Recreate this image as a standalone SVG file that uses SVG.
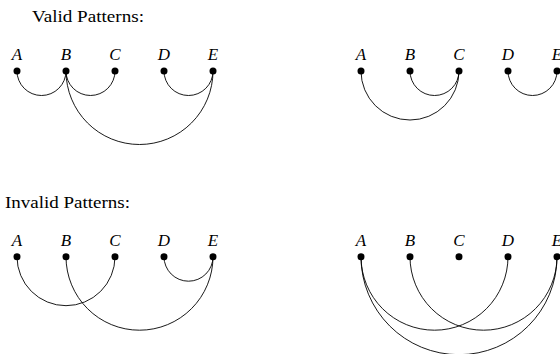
<svg xmlns="http://www.w3.org/2000/svg" width="560" height="354" viewBox="0 0 560 354">
<style>
.t{font-family:"Liberation Serif","DejaVu Serif",serif;font-size:16.5px;fill:#000}
.l{font-family:"Liberation Serif","DejaVu Serif",serif;font-style:italic;font-size:17px;fill:#000;text-anchor:middle}
.d{fill:#000}
.a{fill:none;stroke:#000;stroke-width:0.9}
</style>
<rect width="560" height="354" fill="#fff"/>
<text class="t" x="32" y="22" textLength="112" lengthAdjust="spacingAndGlyphs">Valid Patterns:</text>
<text class="t" x="5" y="207.5" textLength="125" lengthAdjust="spacingAndGlyphs">Invalid Patterns:</text>

<g id="valid1">
<g id="v1A"><text class="l" x="17" y="60">A</text><circle class="d" cx="17" cy="71" r="3.5"/></g>
<g id="v1B"><text class="l" x="66" y="60">B</text><circle class="d" cx="66" cy="71" r="3.5"/></g>
<g id="v1C"><text class="l" x="115" y="60">C</text><circle class="d" cx="115" cy="71" r="3.5"/></g>
<g id="v1D"><text class="l" x="164" y="60">D</text><circle class="d" cx="164" cy="71" r="3.5"/></g>
<g id="v1E"><text class="l" x="213" y="60">E</text><circle class="d" cx="213" cy="71" r="3.5"/></g>
</g>
<g id="valid2">
<g id="v2A"><text class="l" x="361" y="60">A</text><circle class="d" cx="361" cy="71" r="3.5"/></g>
<g id="v2B"><text class="l" x="410" y="60">B</text><circle class="d" cx="410" cy="71" r="3.5"/></g>
<g id="v2C"><text class="l" x="459" y="60">C</text><circle class="d" cx="459" cy="71" r="3.5"/></g>
<g id="v2D"><text class="l" x="508" y="60">D</text><circle class="d" cx="508" cy="71" r="3.5"/></g>
<g id="v2E"><text class="l" x="557" y="60">E</text><circle class="d" cx="557" cy="71" r="3.5"/></g>
</g>
<g id="invalid1">
<g id="i1A"><text class="l" x="17" y="245.7">A</text><circle class="d" cx="17" cy="256.7" r="3.5"/></g>
<g id="i1B"><text class="l" x="66" y="245.7">B</text><circle class="d" cx="66" cy="256.7" r="3.5"/></g>
<g id="i1C"><text class="l" x="115" y="245.7">C</text><circle class="d" cx="115" cy="256.7" r="3.5"/></g>
<g id="i1D"><text class="l" x="164" y="245.7">D</text><circle class="d" cx="164" cy="256.7" r="3.5"/></g>
<g id="i1E"><text class="l" x="213" y="245.7">E</text><circle class="d" cx="213" cy="256.7" r="3.5"/></g>
</g>
<g id="invalid2">
<g id="i2A"><text class="l" x="361" y="245.7">A</text><circle class="d" cx="361" cy="256.7" r="3.5"/></g>
<g id="i2B"><text class="l" x="410" y="245.7">B</text><circle class="d" cx="410" cy="256.7" r="3.5"/></g>
<g id="i2C"><text class="l" x="459" y="245.7">C</text><circle class="d" cx="459" cy="256.7" r="3.5"/></g>
<g id="i2D"><text class="l" x="508" y="245.7">D</text><circle class="d" cx="508" cy="256.7" r="3.5"/></g>
<g id="i2E"><text class="l" x="557" y="245.7">E</text><circle class="d" cx="557" cy="256.7" r="3.5"/></g>
</g>

<g id="connectors">
<path class="a" d="M17 71 A24.5 24.5 0 0 0 66 71"/>
<path class="a" d="M66 71 A24.5 24.5 0 0 0 115 71"/>
<path class="a" d="M164 71 A24.5 24.5 0 0 0 213 71"/>
<path class="a" d="M66 71 A73.5 73.5 0 0 0 213 71"/>
<path class="a" d="M361 71 A49 49 0 0 0 459 71"/>
<path class="a" d="M410 71 A24.5 24.5 0 0 0 459 71"/>
<path class="a" d="M508 71 A24.5 24.5 0 0 0 557 71"/>
<path class="a" d="M17 256.7 A49 49 0 0 0 115 256.7"/>
<path class="a" d="M66 256.7 A73.5 73.5 0 0 0 213 256.7"/>
<path class="a" d="M164 256.7 A24.5 24.5 0 0 0 213 256.7"/>
<path class="a" d="M361 256.7 A73.5 73.5 0 0 0 508 256.7"/>
<path class="a" d="M410 256.7 A73.5 73.5 0 0 0 557 256.7"/>
<path class="a" d="M361 256.7 A98 98 0 0 0 557 256.7"/>
</g>
</svg>
